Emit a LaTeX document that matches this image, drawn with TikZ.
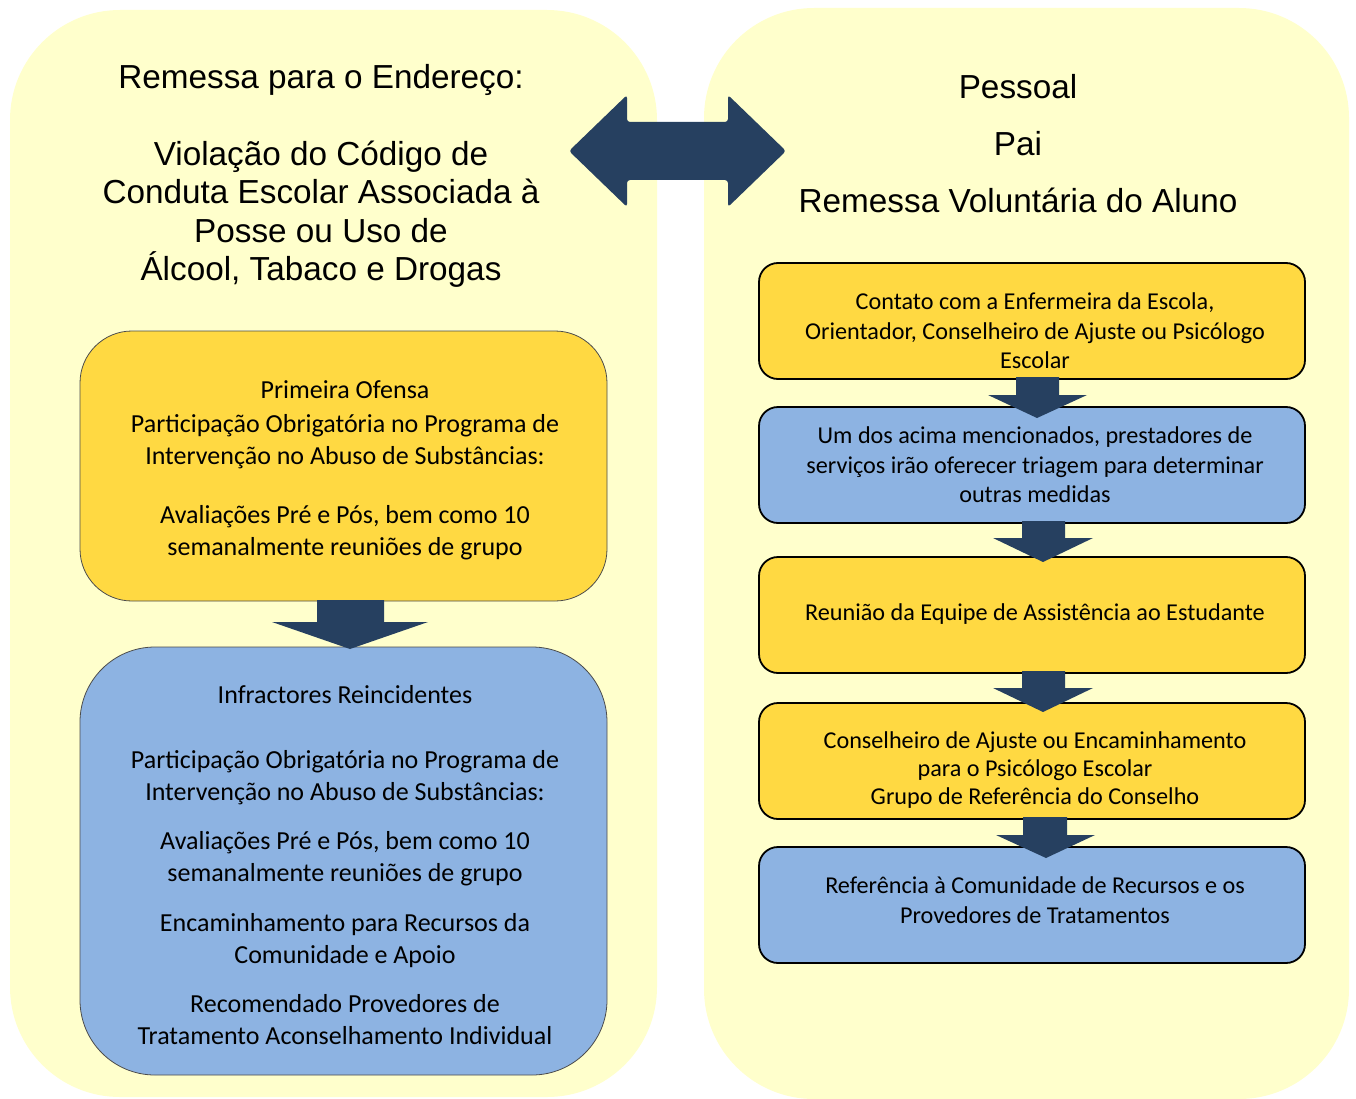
\documentclass[tikz,border=0pt]{standalone}
\usepackage{fontspec}
\setmainfont{Carlito}
\newfontfamily\arialf{Liberation Sans}
\definecolor{panelY}{RGB}{255,255,204}
\definecolor{boxY}{RGB}{255,217,66}
\definecolor{boxB}{RGB}{141,179,226}
\definecolor{arrowc}{RGB}{38,64,96}
\newcommand\blockarrow[8]{\fill[arrowc] (#1,#3) -- (#2,#3) -- (#2,#4) -- (#6,#4) -- (#7,#8) -- (#5,#4) -- (#1,#4) -- cycle;}
\begin{document}
\begin{tikzpicture}[x=1pt,y=-1pt,
  panel/.style={rectangle, fill=panelY, draw=none, inner sep=0pt, rounded corners=110pt},
  lbox/.style={rectangle, draw=black!70, line width=0.8pt, inner sep=0pt, minimum width=527pt},
  rbox/.style={rectangle, draw=black, line width=1.8pt, inner sep=0pt, minimum width=546pt, minimum height=116pt, rounded corners=19pt},
  title/.style={align=center, font=\arialf\fontsize{33.3}{38.5}\selectfont, text=black},
  ltext/.style={align=center, font=\fontsize{26}{32}\selectfont, text=black},
  rtext/.style={align=center, font=\fontsize{24.2}{29.5}\selectfont, text=black}]
\useasboundingbox (0,0) rectangle (1356,1099);
\fill[white] (0,0) rectangle (1356,1099);
% panels
\node[panel, minimum width=647pt, minimum height=1087pt] (panelL) at (333.5,553.5) {};
\node[panel, minimum width=645pt, minimum height=1091pt] (panelR) at (1026.5,553.5) {};
% left boxes
\node[lbox, fill=boxY, minimum height=270pt, rounded corners=52pt] (first) at (343.5,466) {};
\node[lbox, fill=boxB, minimum height=428pt, rounded corners=75pt] (repeat) at (343.5,861) {};
% right boxes
\node[rbox, fill=boxY] (b1) at (1032,321) {};
\node[rbox, fill=boxB] (b2) at (1032,465) {};
\node[rbox, fill=boxY] (b3) at (1032,615) {};
\node[rbox, fill=boxY] (b4) at (1032,761) {};
\node[rbox, fill=boxB] (b5) at (1032,905) {};
% double arrow
\fill[arrowc, rounded corners=3pt] (569,151) -- (627,95) -- (627,122) -- (728,122) -- (728,95) -- (786,151) -- (728,207) -- (728,180) -- (627,180) -- (627,207) -- cycle;
% down arrows
\blockarrow{317}{384}{600}{622}{272}{428}{350}{649}
\blockarrow{1016}{1059}{377}{395}{988}{1087}{1037}{418}
\blockarrow{1022}{1065}{521}{538}{993}{1093}{1043}{562}
\blockarrow{1022}{1065}{671}{688}{993}{1093}{1043}{712}
\blockarrow{1023}{1067}{817}{835}{996}{1095}{1046}{858}
% titles
\node[title] (tL) at (321,176) {Remessa para o Endereço:\\[38.5pt]Violação do Código de\\Conduta Escolar Associada à\\Posse ou Uso de\\Álcool, Tabaco e Drogas};
\node[title] (tR) at (1018,144) {Pessoal\\[18.5pt]Pai\\[18.5pt]Remessa Voluntária do Aluno};
% left texts
\node[ltext] (t1) at (345,470) {Primeira Ofensa\\[2pt]Participação Obrigatória no Programa de\\Intervenção no Abuso de Substâncias:\\[27pt]Avaliações Pré e Pós, bem como 10\\semanalmente reuniões de grupo};
\node[ltext] (t2) at (345,865) {Infractores Reincidentes\\[33pt]Participação Obrigatória no Programa de\\Intervenção no Abuso de Substâncias:\\[17pt]Avaliações Pré e Pós, bem como 10\\semanalmente reuniões de grupo\\[18pt]Encaminhamento para Recursos da\\Comunidade e Apoio\\[17pt]Recomendado Provedores de\\Tratamento Aconselhamento Individual};
% right texts
\node[rtext] (r1) at (1035,331) {Contato com a Enfermeira da Escola,\\Orientador, Conselheiro de Ajuste ou Psicólogo\\Escolar};
\node[rtext] (r2) at (1035,465) {Um dos acima mencionados, prestadores de\\serviços irão oferecer triagem para determinar\\outras medidas};
\node[rtext] (r3) at (1035,614) {Reunião da Equipe de Assistência ao Estudante};
\node[rtext, font=\fontsize{24.2}{28}\selectfont] (r4) at (1035,770) {Conselheiro de Ajuste ou Encaminhamento\\para o Psicólogo Escolar\\Grupo de Referência do Conselho};
\node[rtext] (r5) at (1035,900) {Referência à Comunidade de Recursos e os\\Provedores de Tratamentos};
\end{tikzpicture}
\end{document}
